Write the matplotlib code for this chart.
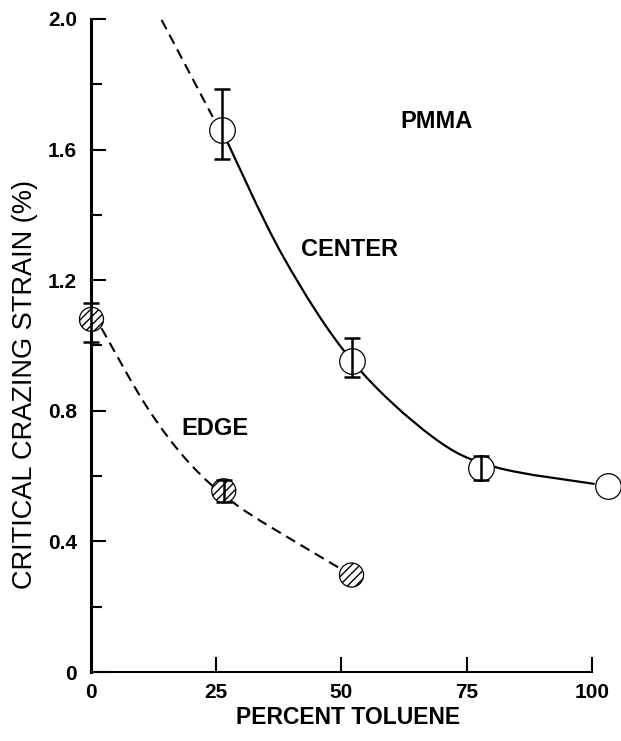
import numpy as np
import matplotlib
matplotlib.use('Agg')
import matplotlib.pyplot as plt
from matplotlib.path import Path
from matplotlib.patches import PathPatch

plt.rcParams['font.family'] = ['Liberation Sans', 'DejaVu Sans']
plt.rcParams['hatch.linewidth'] = 1.0

# measured points (x positions as drawn in the original figure)
center_x = [26.1, 52.1, 77.8, 103.2]
center_y = [1.660, 0.953, 0.626, 0.570]
center_err_lo = [0.090, 0.049, 0.038, 0.0]
center_err_hi = [0.125, 0.069, 0.036, 0.0]

edge_x = [0.1, 26.5, 52.0]
edge_y = [1.080, 0.555, 0.297]
edge_err_lo = [0.068, 0.033, 0.0]
edge_err_hi = [0.051, 0.033, 0.0]

# hand-drawn curves
center_dash_x = [14.1, 24.3]
center_dash_y = [1.997, 1.700]
center_curve_x = [26.1, 38.3, 52.1, 68.2, 80.6, 100.5]
center_curve_y = [1.660, 1.274, 0.953, 0.720, 0.628, 0.576]
edge_curve_x = [2.1, 11.1, 19.7, 29.1, 42.4, 52.0]
edge_curve_y = [1.053, 0.813, 0.639, 0.511, 0.384, 0.297]


def smooth_path(ax, xs, ys, **kw):
    # Catmull-Rom through the traced points, drawn as cubic bezier segments
    pts = ax.transData.transform(np.column_stack([xs, ys]))
    verts = [pts[0]]
    codes = [Path.MOVETO]
    n = len(pts)
    for i in range(n - 1):
        p0 = pts[max(i - 1, 0)]
        p1 = pts[i]
        p2 = pts[i + 1]
        p3 = pts[min(i + 2, n - 1)]
        verts += [p1 + (p2 - p0) / 6, p2 - (p3 - p1) / 6, p2]
        codes += [Path.CURVE4] * 3
    verts = ax.transData.inverted().transform(np.array(verts))
    patch = PathPatch(Path(verts, codes), facecolor='none', edgecolor='black', clip_on=False, **kw)
    ax.add_patch(patch)


fig = plt.figure(figsize=(6.21, 7.41), dpi=100)
ax = fig.add_axes([0.1465, 0.0931, 0.8068, 0.8813])
ax.set_xlim(0, 100)
ax.set_ylim(0, 2.0)

smooth_path(ax, center_dash_x, center_dash_y, lw=1.5, ls=(0, (5, 3)), zorder=2)
smooth_path(ax, center_curve_x, center_curve_y, lw=1.6, zorder=2)
smooth_path(ax, edge_curve_x, edge_curve_y, lw=1.5, ls=(0, (5, 3)), zorder=2)

ax.scatter(center_x, center_y, s=340, facecolor='white', edgecolor='black', linewidth=0.9, clip_on=False, zorder=3)
ax.scatter(edge_x, edge_y, s=300, facecolor='white', edgecolor='black', linewidth=0.9, hatch='////', clip_on=False, zorder=3)

# error bars only where the figure shows them
for xs, ys, lo, hi in [(center_x, center_y, center_err_lo, center_err_hi),
                       (edge_x, edge_y, edge_err_lo, edge_err_hi)]:
    keep = [i for i in range(len(xs)) if lo[i] > 0 or hi[i] > 0]
    ax.errorbar([xs[i] for i in keep], [ys[i] for i in keep],
                yerr=[[lo[i] for i in keep], [hi[i] for i in keep]], fmt='none', ecolor='black',
                elinewidth=1.8, capsize=6, capthick=1.8, clip_on=False, zorder=4)

ax.text(69.0, 1.685, 'PMMA', fontsize=17, fontweight='bold', ha='center', va='center')
ax.text(51.5, 1.293, 'CENTER', fontsize=17, fontweight='bold', ha='center', va='center')
ax.text(24.7, 0.747, 'EDGE', fontsize=17, fontweight='bold', ha='center', va='center')

ax.set_xticks([0, 25, 50, 75, 100])
ax.set_yticks([0, 0.4, 0.8, 1.2, 1.6, 2.0])
ax.set_yticklabels(['0', '0.4', '0.8', '1.2', '1.6', '2.0'])
ax.set_yticks(np.arange(0.2, 2.0, 0.4), minor=True)
ax.tick_params(axis='both', direction='in', labelsize=15, width=1.5, length=11, pad=8)
ax.tick_params(axis='y', which='minor', direction='in', width=1.5, length=8)
ax.tick_params(axis='y', pad=10)
for lbl in ax.get_xticklabels() + ax.get_yticklabels():
    lbl.set_fontweight('bold')

for s in ['top', 'right']:
    ax.spines[s].set_visible(False)
ax.spines['left'].set_linewidth(2.2)
ax.spines['bottom'].set_linewidth(1.5)

ax.set_xlabel('PERCENT TOLUENE', fontsize=16.5, fontweight='bold')
ax.set_ylabel('CRITICAL CRAZING STRAIN (%)', fontsize=19.5)
ax.xaxis.set_label_coords(0.513, -0.052)
ax.yaxis.set_label_coords(-0.106, 0.441)

fig.savefig('out.png', dpi=100)
